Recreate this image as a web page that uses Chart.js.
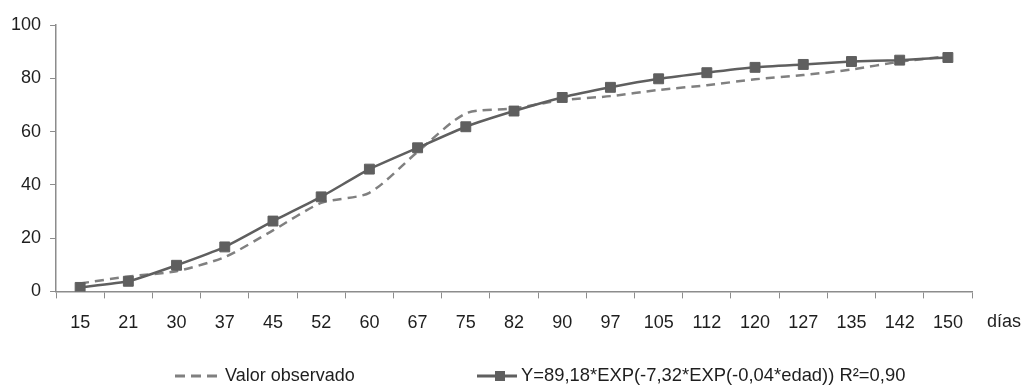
<!DOCTYPE html>
<html lang="es">

<head>
  <meta charset="UTF-8">
  <title>Valor observado vs ajustado</title>
  <script src="https://cdn.jsdelivr.net/npm/chart.js"></script>
  <style>
    body {
      margin: 0;
      padding: 0;
      background: #fff;
    }

    #wrap {
      position: relative;
      width: 1023px;
      height: 388px;
    }
  </style>
</head>

<body>
  <div id="wrap">
    <canvas id="chart"></canvas>
  </div>
  <script>
    // datos
    const dias = ['15', '21', '30', '37', '45', '52', '60', '67', '75', '82', '90', '97', '105', '112', '120', '127', '135', '142', '150'];
    const observado = [3, 5.6, 7.6, 12.9, 22.9, 33.2, 37, 52.4, 66.8, 68.7, 71.8, 73.3, 75.6, 77.4, 79.6, 81.2, 83.3, 86.2, 88.3];
    const ajustado = [1.5, 3.8, 9.8, 16.7, 26.4, 35.5, 45.9, 53.9, 61.8, 67.7, 72.8, 76.6, 79.8, 82.1, 84.1, 85.2, 86.3, 86.8, 87.8];
    const yTicks = [0, 20, 40, 60, 80, 100];

    const labelObs = 'Valor observado';
    const labelFit = 'Y=89,18*EXP(-7,32*EXP(-0,04*edad)) R²=0,90';
    const xTitle = 'días';

    const FONT = "'Liberation Sans', Arial, sans-serif";
    const FSIZE = 18;
    const TXT = '#1e1e1e';
    const AXIS = '#8c8c8c';

    // texto "días" y leyenda dibujados a mano
    const extras = {
      id: 'extras',
      afterDraw(chart) {
        const ctx = chart.ctx;
        const area = chart.chartArea;
        ctx.save();
        ctx.font = `${FSIZE}px ${FONT}`;
        ctx.fillStyle = TXT;
        ctx.textBaseline = 'middle';
        ctx.textAlign = 'left';
        ctx.fillText(xTitle, area.right + 15, 322);

        const ly = 376;
        // muestra línea discontinua
        ctx.strokeStyle = '#808080';
        ctx.lineWidth = 3;
        ctx.setLineDash([10, 6]);
        ctx.beginPath();
        ctx.moveTo(175, ly);
        ctx.lineTo(219, ly);
        ctx.stroke();
        ctx.setLineDash([]);
        ctx.fillText(labelObs, 225, ly);

        // muestra línea con marcador
        ctx.strokeStyle = '#5f5f5f';
        ctx.beginPath();
        ctx.moveTo(477, ly);
        ctx.lineTo(517, ly);
        ctx.stroke();
        ctx.fillStyle = '#5f5f5f';
        ctx.fillRect(495, ly - 5, 10, 10);
        ctx.fillStyle = TXT;
        ctx.font = `18.4px ${FONT}`;
        ctx.fillText(labelFit, 521, ly);
        ctx.restore();
      }
    };

    new Chart(document.getElementById('chart'), {
      type: 'line',
      data: {
        labels: dias,
        datasets: [
          {
            label: labelFit,
            data: ajustado,
            borderColor: '#5f5f5f',
            backgroundColor: '#5f5f5f',
            borderWidth: 2.5,
            tension: 0.15,
            pointStyle: 'rect',
            pointRadius: 7,
            pointBorderWidth: 1,
            pointBorderColor: '#5f5f5f',
            pointBackgroundColor: '#5f5f5f'
          },
          {
            label: labelObs,
            data: observado,
            borderColor: '#808080',
            borderWidth: 2.5,
            borderDash: [9, 6],
            tension: 0.25,
            pointRadius: 0
          }
        ]
      },
      options: {
        responsive: true,
        maintainAspectRatio: false,
        animation: false,
        layout: {
          padding: { left: 2, right: 51, top: 25, bottom: 40 }
        },
        plugins: {
          legend: { display: false },
          tooltip: { enabled: false }
        },
        scales: {
          x: {
            offset: true,
            grid: {
              offset: true,
              drawOnChartArea: false,
              tickLength: 7,
              color: AXIS
            },
            border: { color: AXIS, width: 1.5 },
            ticks: {
              color: TXT,
              padding: 14,
              maxRotation: 0,
              autoSkip: false,
              font: { family: FONT, size: FSIZE }
            }
          },
          y: {
            min: 0,
            max: 100,
            afterBuildTicks(scale) {
              scale.ticks = yTicks.map(v => ({ value: v }));
            },
            grid: {
              drawOnChartArea: false,
              tickLength: 6,
              color: AXIS
            },
            border: { color: AXIS, width: 1.5 },
            ticks: {
              color: TXT,
              padding: 9,
              font: { family: FONT, size: FSIZE }
            }
          }
        }
      },
      plugins: [extras]
    });
  </script>
</body>

</html>
